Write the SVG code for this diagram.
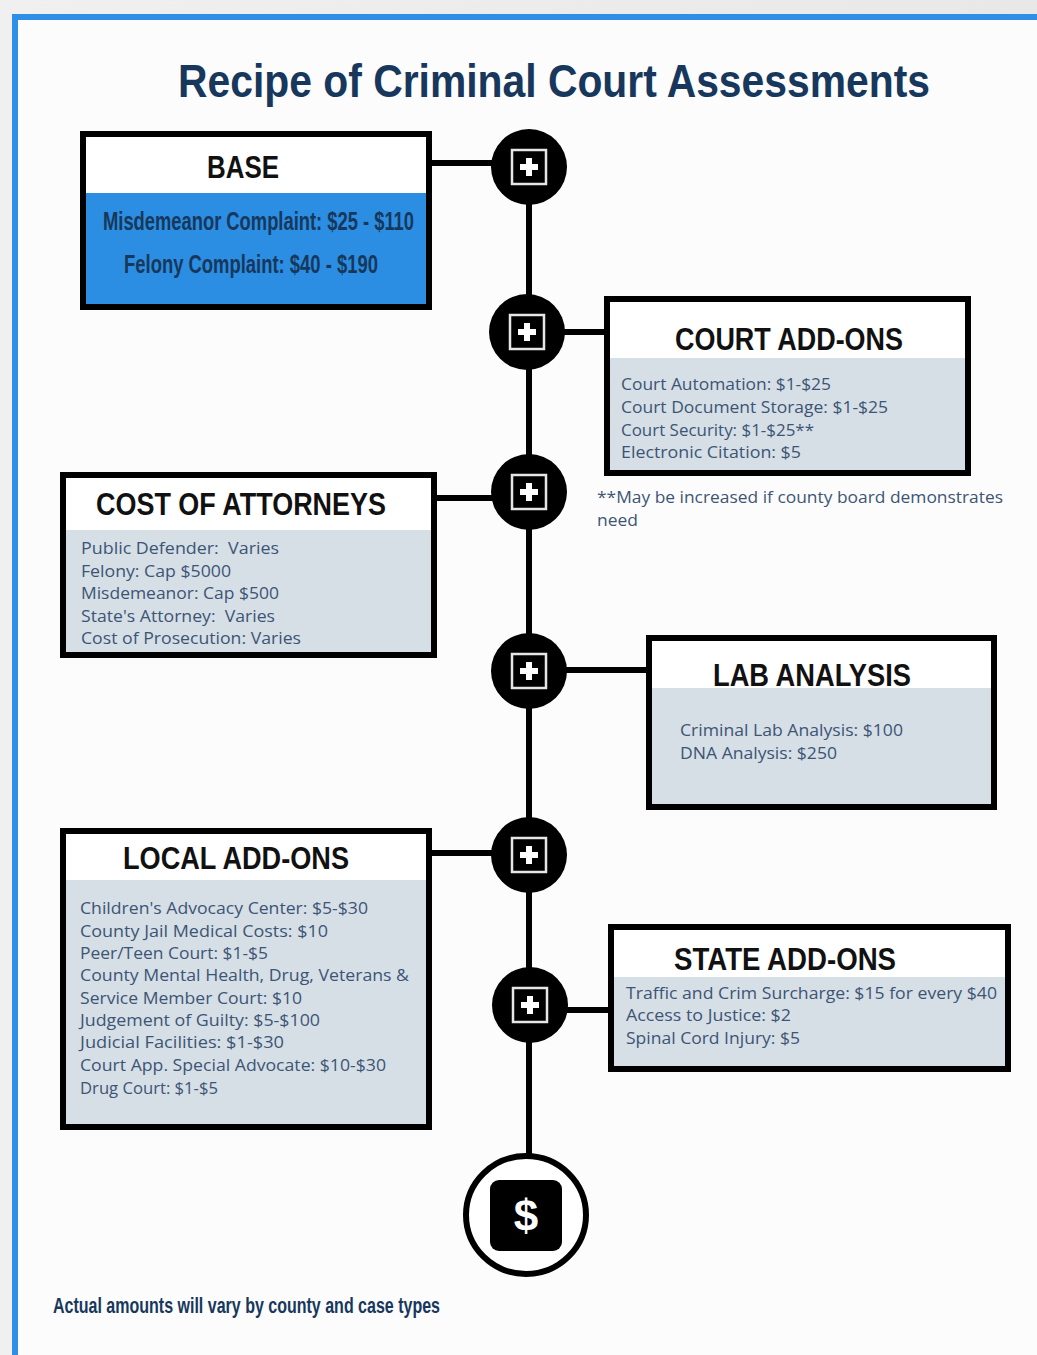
<svg xmlns="http://www.w3.org/2000/svg" width="1037" height="1355" viewBox="0 0 1037 1355">
<style>
.box{fill:none;stroke:#000;stroke-width:6}
.hdr{fill:#fff}
.body{fill:#d6dee6}
.ttl{font-family:"Liberation Sans",Arial,sans-serif;font-weight:bold;font-size:32px;fill:#111;text-anchor:middle}
.txt{font-family:"Open Sans","Noto Sans",sans-serif;font-size:17px;fill:#3c5575;white-space:pre}
.cnd{font-family:"Liberation Sans",Arial,sans-serif;fill:#17385c}
.conn{stroke:#000;stroke-width:6;fill:none}
</style>
<defs>
<g id="plus">
<circle cx="0" cy="0" r="38" fill="#000"/>
<rect x="-17" y="-17" width="34" height="34" fill="#000" stroke="#e6e6e6" stroke-width="2.5"/>
<rect x="-9" y="-3" width="18" height="6" fill="#fff"/>
<rect x="-3" y="-9" width="6" height="18" fill="#fff"/>
</g>
<linearGradient id="bg" x1="0" y1="0" x2="1" y2="0">
<stop offset="0" stop-color="#f0f0f0"/>
<stop offset="1" stop-color="#e8e8e8"/>
</linearGradient>
</defs>
<rect x="0" y="0" width="1037" height="1355" fill="url(#bg)"/>
<rect x="15" y="17" width="1030" height="1350" fill="#fcfcfc" stroke="#2f8fe6" stroke-width="6"/>
<text class="cnd" x="554" y="97" font-size="46" font-weight="bold" fill="#12304f" text-anchor="middle" textLength="752" lengthAdjust="spacingAndGlyphs">Recipe of Criminal Court Assessments</text>

<g id="connectors">
<line class="conn" x1="529" y1="167" x2="529" y2="1155"/>
<line class="conn" x1="432" y1="163" x2="495" y2="163"/>
<line class="conn" x1="560" y1="332" x2="604" y2="332"/>
<line class="conn" x1="437" y1="498" x2="495" y2="498"/>
<line class="conn" x1="560" y1="670" x2="646" y2="670"/>
<line class="conn" x1="432" y1="853" x2="495" y2="853"/>
<line class="conn" x1="560" y1="1010" x2="608" y2="1010"/>
</g>

<g id="step1"><use href="#plus" x="529" y="167"/></g>
<g id="step2"><use href="#plus" x="527" y="332"/></g>
<g id="step3"><use href="#plus" x="529" y="492"/></g>
<g id="step4"><use href="#plus" x="529" y="671"/></g>
<g id="step5"><use href="#plus" x="529" y="855"/></g>
<g id="step6"><use href="#plus" x="530" y="1005"/></g>

<g id="total">
<ellipse cx="526" cy="1215" rx="60" ry="59" fill="#fff" stroke="#000" stroke-width="6"/>
<rect x="490" y="1180" width="72" height="71" rx="9" fill="#000"/>
<text x="526" y="1231" font-family="Liberation Sans,Arial,sans-serif" font-size="44" font-weight="bold" fill="#fff" text-anchor="middle">$</text>
</g>

<g id="base">
<rect class="hdr" x="83" y="134" width="346" height="173"/>
<rect x="86" y="193" width="340" height="114" fill="#2b8ee2"/>
<rect class="box" x="83" y="134" width="346" height="173"/>
<text class="ttl" x="243" y="178" textLength="72" lengthAdjust="spacingAndGlyphs">BASE</text>
<text class="cnd" x="103" y="230" font-size="26" font-weight="bold" textLength="311" lengthAdjust="spacingAndGlyphs">Misdemeanor Complaint: $25 - $110</text>
<text class="cnd" x="124" y="273" font-size="26" font-weight="bold" textLength="254" lengthAdjust="spacingAndGlyphs">Felony Complaint: $40 - $190</text>
</g>

<g id="court">
<rect class="hdr" x="607" y="299" width="361" height="174"/>
<rect class="body" x="610" y="358" width="357" height="112"/>
<rect class="box" x="607" y="299" width="361" height="174"/>
<text class="ttl" x="789" y="350" textLength="228" lengthAdjust="spacingAndGlyphs">COURT ADD-ONS</text>
<text class="txt" x="621" y="390" textLength="210" lengthAdjust="spacingAndGlyphs">Court Automation: $1-$25</text>
<text class="txt" x="621" y="413" textLength="267" lengthAdjust="spacingAndGlyphs">Court Document Storage: $1-$25</text>
<text class="txt" x="621" y="436" textLength="193" lengthAdjust="spacingAndGlyphs">Court Security: $1-$25**</text>
<text class="txt" x="621" y="458" textLength="180" lengthAdjust="spacingAndGlyphs">Electronic Citation: $5</text>
</g>
<g id="note">
<text class="txt" x="597" y="503" fill="#5a6f88" textLength="406" lengthAdjust="spacingAndGlyphs">**May be increased if county board demonstrates</text>
<text class="txt" x="597" y="526" fill="#5a6f88" textLength="41" lengthAdjust="spacingAndGlyphs">need</text>
</g>

<g id="attorneys">
<rect class="hdr" x="63" y="475" width="371" height="180"/>
<rect class="body" x="66" y="530" width="365" height="122"/>
<rect class="box" x="63" y="475" width="371" height="180"/>
<text class="ttl" x="241" y="515" textLength="290" lengthAdjust="spacingAndGlyphs">COST OF ATTORNEYS</text>
<text class="txt" x="81" y="554" textLength="198" lengthAdjust="spacingAndGlyphs">Public Defender:  Varies</text>
<text class="txt" x="81" y="577" textLength="150" lengthAdjust="spacingAndGlyphs">Felony: Cap $5000</text>
<text class="txt" x="81" y="599" textLength="198" lengthAdjust="spacingAndGlyphs">Misdemeanor: Cap $500</text>
<text class="txt" x="81" y="622" textLength="194" lengthAdjust="spacingAndGlyphs">State's Attorney:  Varies</text>
<text class="txt" x="81" y="644" textLength="220" lengthAdjust="spacingAndGlyphs">Cost of Prosecution: Varies</text>
</g>

<g id="lab">
<rect class="hdr" x="649" y="638" width="345" height="169"/>
<rect class="body" x="652" y="688" width="339" height="116"/>
<rect class="box" x="649" y="638" width="345" height="169"/>
<text class="ttl" x="812" y="686" textLength="198" lengthAdjust="spacingAndGlyphs">LAB ANALYSIS</text>
<text class="txt" x="680" y="736" textLength="223" lengthAdjust="spacingAndGlyphs">Criminal Lab Analysis: $100</text>
<text class="txt" x="680" y="759" textLength="157" lengthAdjust="spacingAndGlyphs">DNA Analysis: $250</text>
</g>

<g id="local">
<rect class="hdr" x="63" y="831" width="366" height="296"/>
<rect class="body" x="66" y="880" width="360" height="244"/>
<rect class="box" x="63" y="831" width="366" height="296"/>
<text class="ttl" x="236" y="869" textLength="226" lengthAdjust="spacingAndGlyphs">LOCAL ADD-ONS</text>
<text class="txt" x="80" y="914" textLength="288" lengthAdjust="spacingAndGlyphs">Children's Advocacy Center: $5-$30</text>
<text class="txt" x="80" y="937" textLength="248" lengthAdjust="spacingAndGlyphs">County Jail Medical Costs: $10</text>
<text class="txt" x="80" y="959" textLength="188" lengthAdjust="spacingAndGlyphs">Peer/Teen Court: $1-$5</text>
<text class="txt" x="80" y="981" textLength="329" lengthAdjust="spacingAndGlyphs">County Mental Health, Drug, Veterans &amp;</text>
<text class="txt" x="80" y="1004" textLength="222" lengthAdjust="spacingAndGlyphs">Service Member Court: $10</text>
<text class="txt" x="80" y="1026" textLength="240" lengthAdjust="spacingAndGlyphs">Judgement of Guilty: $5-$100</text>
<text class="txt" x="80" y="1048" textLength="204" lengthAdjust="spacingAndGlyphs">Judicial Facilities: $1-$30</text>
<text class="txt" x="80" y="1071" textLength="306" lengthAdjust="spacingAndGlyphs">Court App. Special Advocate: $10-$30</text>
<text class="txt" x="80" y="1094" textLength="138" lengthAdjust="spacingAndGlyphs">Drug Court: $1-$5</text>
</g>

<g id="state">
<rect class="hdr" x="611" y="927" width="397" height="142"/>
<rect class="body" x="614" y="977" width="391" height="89"/>
<rect class="box" x="611" y="927" width="397" height="142"/>
<text class="ttl" x="785" y="970" textLength="222" lengthAdjust="spacingAndGlyphs">STATE ADD-ONS</text>
<text class="txt" x="626" y="999" textLength="371" lengthAdjust="spacingAndGlyphs">Traffic and Crim Surcharge: $15 for every $40</text>
<text class="txt" x="626" y="1021" textLength="165" lengthAdjust="spacingAndGlyphs">Access to Justice: $2</text>
<text class="txt" x="626" y="1044" textLength="174" lengthAdjust="spacingAndGlyphs">Spinal Cord Injury: $5</text>
</g>

<text class="cnd" x="53" y="1313" font-size="22" font-weight="bold" fill="#2c4a6b" textLength="387" lengthAdjust="spacingAndGlyphs">Actual amounts will vary by county and case types</text>
</svg>
